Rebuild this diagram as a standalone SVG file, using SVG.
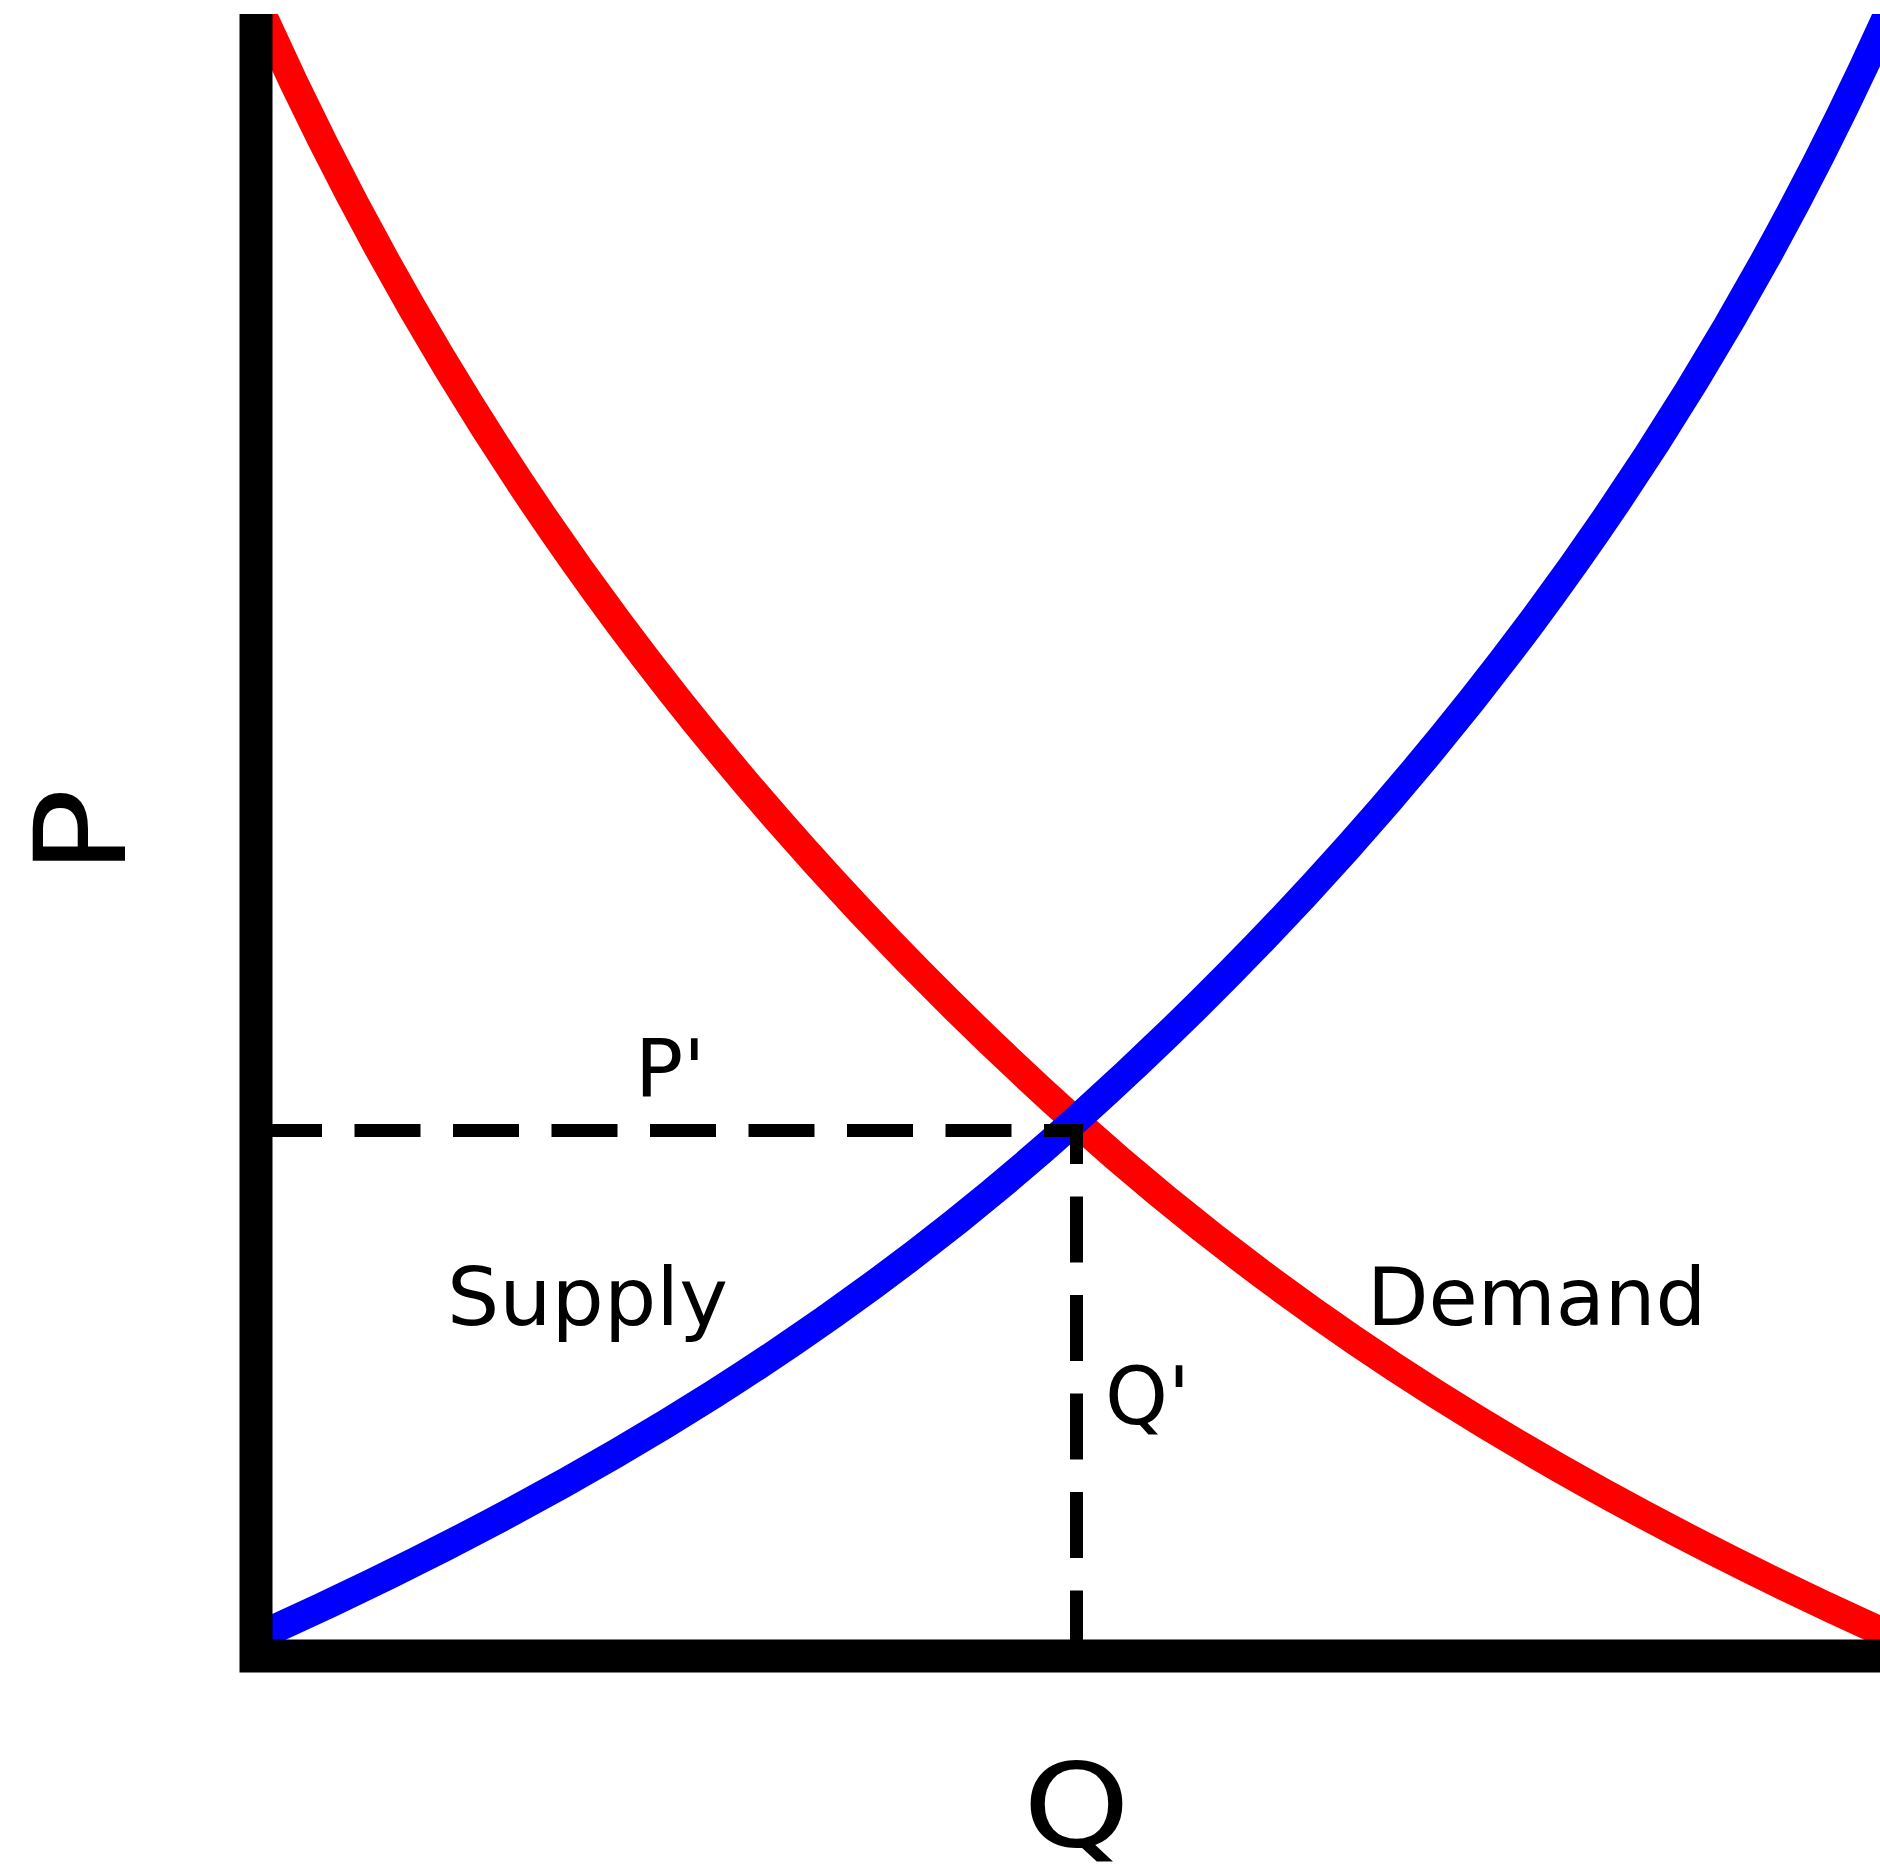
<svg xmlns="http://www.w3.org/2000/svg" width="1880" height="1870" viewBox="0 0 1880 1870">
<style>
  .curve{fill:none;stroke-width:29;stroke-linecap:butt;stroke-linejoin:round}
  .demand{stroke:#ff0000}
  .supply{stroke:#0000ff}
  .guide{fill:none;stroke:#000;stroke-width:13;stroke-dasharray:66 32.5;stroke-linejoin:miter}
  .axis{fill:none;stroke:#000;stroke-width:33;stroke-linejoin:miter;stroke-linecap:butt}
  .label{font-family:"DejaVu Sans","Liberation Sans",sans-serif;fill:#000}
</style>
<defs>
  <clipPath id="plot"><rect x="240" y="14" width="1700" height="1660"/></clipPath>
</defs>
<rect width="1880" height="1870" fill="#fff"/>
<g id="connectors" clip-path="url(#plot)">
  <path id="demand-curve" class="curve demand" d="M255,-2 L262,14 C464.5,464 741,820 1074,1120 C1296,1320 1550,1481 1880,1631 L2000,1685.5"/>
  <path id="supply-curve" class="curve supply" transform="matrix(-1 0 0 1 2150 0)" d="M255,-2 L262,14 C464.5,464 741,820 1074,1120 C1296,1320 1550,1481 1880,1631 L2000,1685.5"/>
  <path id="equilibrium-guides" class="guide" d="M256,1130.5 H1076.5 V1656"/>
</g>
<g id="axes">
  <path class="axis" d="M256,14 V1656 H1880"/>
</g>
<g id="label-P"><text class="label" x="0" y="0" font-size="126" textLength="87" lengthAdjust="spacingAndGlyphs" transform="translate(125,875) rotate(-90)">P</text></g>
<g id="label-Q"><text class="label" x="1023" y="1846" font-size="115" textLength="107" lengthAdjust="spacingAndGlyphs">Q</text></g>
<g id="label-Pprime"><text class="label" x="635" y="1097" font-size="80">P'</text></g>
<g id="label-Qprime"><text class="label" x="1105" y="1424" font-size="80">Q'</text></g>
<g id="label-supply"><text class="label" x="447" y="1325" font-size="80" textLength="281" lengthAdjust="spacingAndGlyphs">Supply</text></g>
<g id="label-demand"><text class="label" x="1367" y="1325" font-size="80">Demand</text></g>
</svg>
